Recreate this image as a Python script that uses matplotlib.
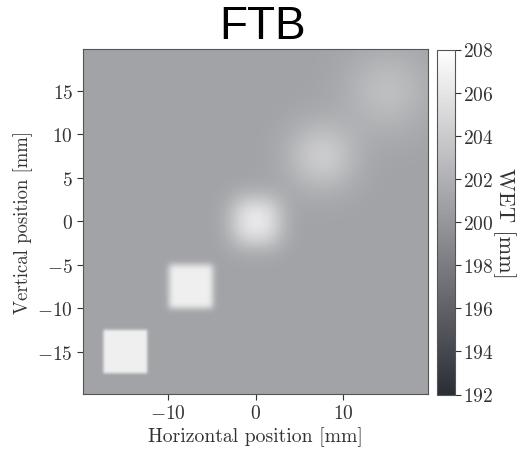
import math
import numpy as np
import matplotlib
matplotlib.use("Agg")
import matplotlib.pyplot as plt
from matplotlib.colors import LinearSegmentedColormap

# Phantom targets along the diagonal: centres [mm], side length [mm], blur sigma [mm]
target_x = [-15.0, -7.5, 0.0, 7.5, 15.0]
target_y = [-15.0, -7.5, 0.0, 7.5, 15.0]
target_side = [5.0, 5.0, 5.0, 5.0, 5.0]
target_sigma = [0.15, 0.35, 1.3, 2.3, 3.0]
target_wet = [206.8, 206.8, 206.8, 206.8, 206.8]
background_wet = 201.0

# Image grid and extent [mm]
x_min, x_max = -19.8, 19.7
y_min, y_max = -19.85, 19.8
n_pix = 400

cbar_ticks = [192, 194, 196, 198, 200, 202, 204, 206, 208]
x_ticks = [-10, 0, 10]
y_ticks = [-15, -10, -5, 0, 5, 10, 15]

erf = np.frompyfunc(math.erf, 1, 1)


def blurred_edge(coord, centre, half, sigma):
    s = sigma * math.sqrt(2.0)
    a = erf((coord - centre + half) / s).astype(float)
    b = erf((coord - centre - half) / s).astype(float)
    return 0.5 * (a - b)


xs = np.linspace(x_min, x_max, n_pix)
ys = np.linspace(y_min, y_max, n_pix)
wet = np.full((n_pix, n_pix), background_wet)
for cx, cy, side, sig, val in zip(target_x, target_y, target_side, target_sigma, target_wet):
    px = blurred_edge(xs, cx, side / 2, sig)
    py = blurred_edge(ys, cy, side / 2, sig)
    wet += (val - background_wet) * np.outer(py, px)

cmap = LinearSegmentedColormap.from_list("wet", [(0.17, 0.18, 0.21), (1.0, 1.0, 1.0)])

plt.rcParams["font.family"] = "cmr10"
plt.rcParams["mathtext.fontset"] = "cm"
plt.rcParams["axes.formatter.use_mathtext"] = True
plt.rcParams["axes.unicode_minus"] = True

fig = plt.figure(figsize=(5.21, 4.52), dpi=100)
ax = fig.add_axes([82.7 / 521, 1 - 395 / 452, 345.3 / 521, 345 / 452])
cax = fig.add_axes([437 / 521, 1 - 395.5 / 452, 18 / 521, 345 / 452])

im = ax.imshow(wet, origin="lower", extent=[x_min, x_max, y_min, y_max],
               cmap=cmap, vmin=192, vmax=208, interpolation="bilinear", aspect="auto")
ax.set_xticks(x_ticks)
ax.set_yticks(y_ticks)
ax.set_xlabel("Horizontal position [mm]", fontsize=14.2, color="#333333", labelpad=3)
ax.set_ylabel("Vertical position [mm]", fontsize=13.5, color="#333333", labelpad=3)
ax.tick_params(labelsize=14, colors="#333333", length=4, width=0.8, pad=3)
for sp in ax.spines.values():
    sp.set_color("#555555")

cb = fig.colorbar(im, cax=cax, ticks=cbar_ticks)
cb.set_label("WET [mm]", fontsize=16, color="#333333", rotation=270, labelpad=16)
cb.ax.tick_params(labelsize=14, colors="#333333", length=4, width=0.8, pad=2)
cb.outline.set_edgecolor("#555555")

fig.text(263 / 521, 1 - 27 / 452, "FTB", fontsize=33, family="Liberation Sans",
         ha="center", va="center", color="black")

fig.savefig("out.png", dpi=100)
